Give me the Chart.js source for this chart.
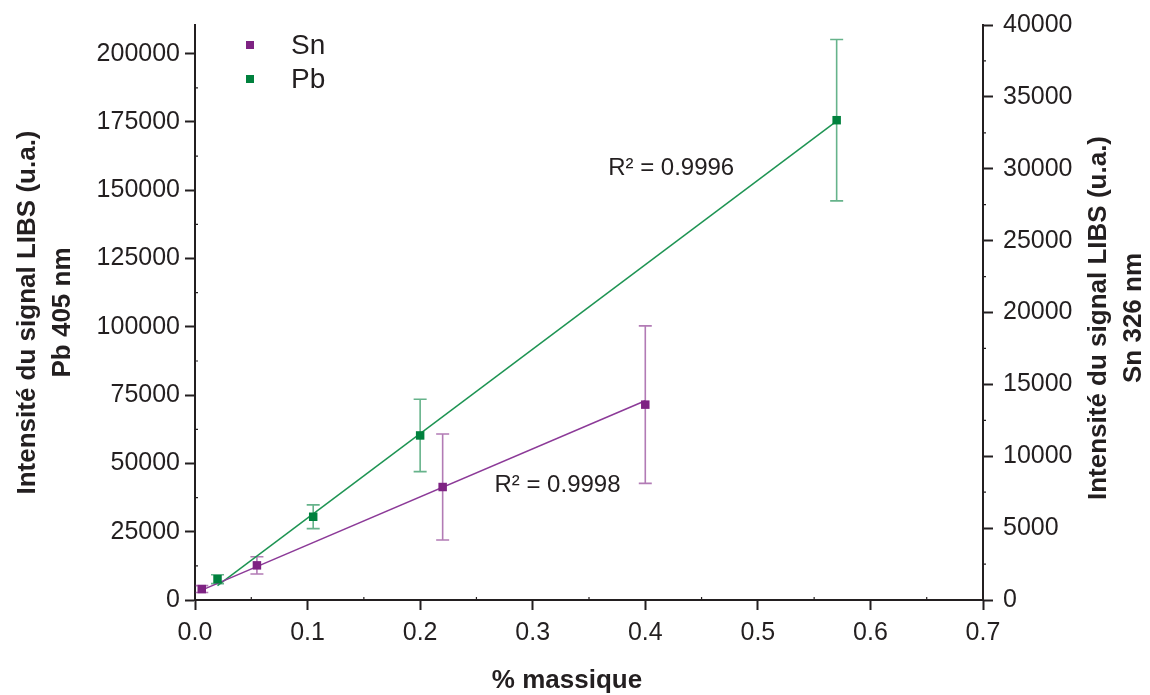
<!DOCTYPE html>
<html>
<head>
<meta charset="utf-8">
<script src="https://cdn.jsdelivr.net/npm/chart.js@4.4.0/dist/chart.umd.min.js"></script>
<style>
html, body { margin: 0; padding: 0; background: #fff; }
</style>
</head>
<body>
<canvas id="myChart" width="1150" height="695"></canvas>
<script>
// % massique / intensity values
var snPct = [0.006, 0.055, 0.22, 0.40];
var snSignal = [760, 2410, 7860, 13590];
var snError = [240, 600, 3690, 5480];

var pbPct = [0.02, 0.105, 0.20, 0.57];
var pbSignal = [7620, 30480, 60240, 175650];
var pbError = [1630, 4350, 13250, 29550];

// linear fits (end points)
var snFitPct = [0.006, 0.40];
var snFitSignal = [690, 13860];
var pbFitPct = [0.02, 0.57];
var pbFitSignal = [5230, 175300];

// tick labels
var xTicks = [0, 0.1, 0.2, 0.3, 0.4, 0.5, 0.6, 0.7];
var pbTicks = [0, 25000, 50000, 75000, 100000, 125000, 150000, 175000, 200000];
var snTicks = [0, 5000, 10000, 15000, 20000, 25000, 30000, 35000, 40000];

var r2Labels = ["R\u00b2 = 0.9996", "R\u00b2 = 0.9998"];

var snColor = "#7E2383";
var pbColor = "#00813D";
var ink = "#231F20";
var family = "'Liberation Sans', Arial, Helvetica, sans-serif";

function pts(xs, ys) {
  return xs.map(function (x, i) { return {x: x, y: ys[i]}; });
}
function fixTicks(list) {
  return function (s) { s.ticks = list.map(function (v) { return {value: v}; }); };
}

var extras = {
  id: 'extras',
  beforeDatasetsDraw: function (chart) {
    var ctx = chart.ctx;
    var xs = chart.scales.x;
    chart.data.datasets.forEach(function (ds) {
      if (!ds.errors) return;
      var ys = chart.scales[ds.yAxisID];
      ctx.save();
      ctx.strokeStyle = ds.errorColor;
      ctx.lineWidth = 1.6;
      ds.data.forEach(function (p, i) {
        var px = xs.getPixelForValue(p.x);
        var top = ys.getPixelForValue(p.y + ds.errors[i]);
        var bot = ys.getPixelForValue(p.y - ds.errors[i]);
        ctx.beginPath();
        ctx.moveTo(px, top); ctx.lineTo(px, bot);
        ctx.moveTo(px - 6.5, top); ctx.lineTo(px + 6.5, top);
        ctx.moveTo(px - 6.5, bot); ctx.lineTo(px + 6.5, bot);
        ctx.stroke();
      });
      ctx.restore();
    });
  },
  afterDraw: function (chart) {
    var ctx = chart.ctx;
    var a = chart.chartArea;
    var xs = chart.scales.x, yl = chart.scales.y, yr = chart.scales.y1;
    ctx.save();
    // minor ticks
    ctx.strokeStyle = ink;
    ctx.lineWidth = 1.2;
    ctx.beginPath();
    for (var v = 0.05; v < 0.7; v += 0.1) {
      var px = xs.getPixelForValue(v);
      ctx.moveTo(px, a.bottom); ctx.lineTo(px, a.bottom - 3);
    }
    for (var w = 12500; w < 210000; w += 25000) {
      var py = yl.getPixelForValue(w);
      ctx.moveTo(a.left, py); ctx.lineTo(a.left + 3, py);
    }
    for (var u = 2500; u < 40000; u += 5000) {
      var qy = yr.getPixelForValue(u);
      ctx.moveTo(a.right, qy); ctx.lineTo(a.right + 3, qy);
    }
    ctx.stroke();

    // legend
    [chart.data.datasets[0], chart.data.datasets[1]].forEach(function (ds, i) {
      var cy = 45 + i * 34;
      ctx.fillStyle = ds.backgroundColor;
      ctx.fillRect(246, cy - 4, 8, 8);
      ctx.fillStyle = ink;
      ctx.font = "28px " + family;
      ctx.textAlign = "left";
      ctx.textBaseline = "middle";
      ctx.fillText(ds.label, 291, cy + 1);
    });

    // R² labels
    ctx.font = "24px " + family;
    ctx.fillStyle = ink;
    ctx.textAlign = "left";
    ctx.textBaseline = "middle";
    ctx.fillText(r2Labels[0], xs.getPixelForValue(0.367), yl.getPixelForValue(157870));
    ctx.fillText(r2Labels[1], xs.getPixelForValue(0.266), yr.getPixelForValue(8000));

    // x title
    ctx.font = "bold 26px " + family;
    ctx.textAlign = "center";
    ctx.fillText("% massique", 567, 681);

    // right title (reads bottom to top)
    var lines = ["Intensit\u00e9 du signal LIBS (u.a.)", "Sn 326 nm"];
    lines.forEach(function (t, i) {
      ctx.save();
      ctx.translate(1099 + i * 35, 318);
      ctx.rotate(-Math.PI / 2);
      ctx.fillText(t, 0, 0);
      ctx.restore();
    });
    ctx.restore();
  }
};

var tickFont = {size: 25, family: family};

new Chart("myChart", {
  type: "scatter",
  data: {
    datasets: [{
      label: "Sn",
      yAxisID: "y1",
      data: pts(snPct, snSignal),
      errors: snError,
      errorColor: "rgba(126,35,131,0.6)",
      backgroundColor: snColor,
      borderColor: snColor,
      pointStyle: "rect",
      pointRadius: 6,
      pointBorderWidth: 0,
      order: 0
    }, {
      label: "Pb",
      yAxisID: "y",
      data: pts(pbPct, pbSignal),
      errors: pbError,
      errorColor: "rgba(0,129,61,0.6)",
      backgroundColor: pbColor,
      borderColor: pbColor,
      pointStyle: "rect",
      pointRadius: 6,
      pointBorderWidth: 0,
      order: 0
    }, {
      label: "Sn fit",
      yAxisID: "y1",
      data: pts(snFitPct, snFitSignal),
      showLine: true,
      borderColor: "#8C3A98",
      borderWidth: 1.5,
      pointRadius: 0,
      order: 1
    }, {
      label: "Pb fit",
      yAxisID: "y",
      data: pts(pbFitPct, pbFitSignal),
      showLine: true,
      borderColor: "#1E9453",
      borderWidth: 1.5,
      pointRadius: 0,
      order: 1
    }]
  },
  options: {
    responsive: false,
    animation: false,
    layout: {padding: {top: 20, left: 0, right: 0, bottom: 0}},
    plugins: {
      legend: {display: false},
      tooltip: {enabled: false}
    },
    scales: {
      x: {
        type: "linear",
        min: 0,
        max: 0.7,
        afterBuildTicks: fixTicks(xTicks),
        afterFit: function (s) { s.height = 95; },
        border: {color: ink, width: 2},
        grid: {drawOnChartArea: false, tickLength: 10, tickColor: ink, tickWidth: 2},
        ticks: {
          padding: 8, color: ink, font: tickFont, maxRotation: 0,
          callback: function (v) { return v.toFixed(1); }
        }
      },
      y: {
        type: "linear",
        position: "left",
        min: 0,
        max: 210500,
        afterBuildTicks: fixTicks(pbTicks),
        afterFit: function (s) { s.width = 195; },
        border: {color: ink, width: 2},
        grid: {drawOnChartArea: false, tickLength: 10, tickColor: ink, tickWidth: 2},
        ticks: {
          padding: 5, color: ink, font: tickFont,
          callback: function (v) { return String(v); }
        },
        title: {
          display: true,
          text: ["Intensit\u00e9 du signal LIBS (u.a.)", "Pb 405 nm"],
          color: ink,
          font: {size: 26, weight: "bold", family: family, lineHeight: 1.35},
          padding: {top: 10, bottom: 0}
        }
      },
      y1: {
        type: "linear",
        position: "right",
        min: 0,
        max: 40000,
        afterBuildTicks: fixTicks(snTicks),
        afterFit: function (s) { s.width = 167; },
        border: {color: ink, width: 2},
        grid: {drawOnChartArea: false, tickLength: 10, tickColor: ink, tickWidth: 2},
        ticks: {
          padding: 10, color: ink, font: tickFont,
          callback: function (v) { return String(v); }
        }
      }
    }
  },
  plugins: [extras]
});
</script>
</body>
</html>
